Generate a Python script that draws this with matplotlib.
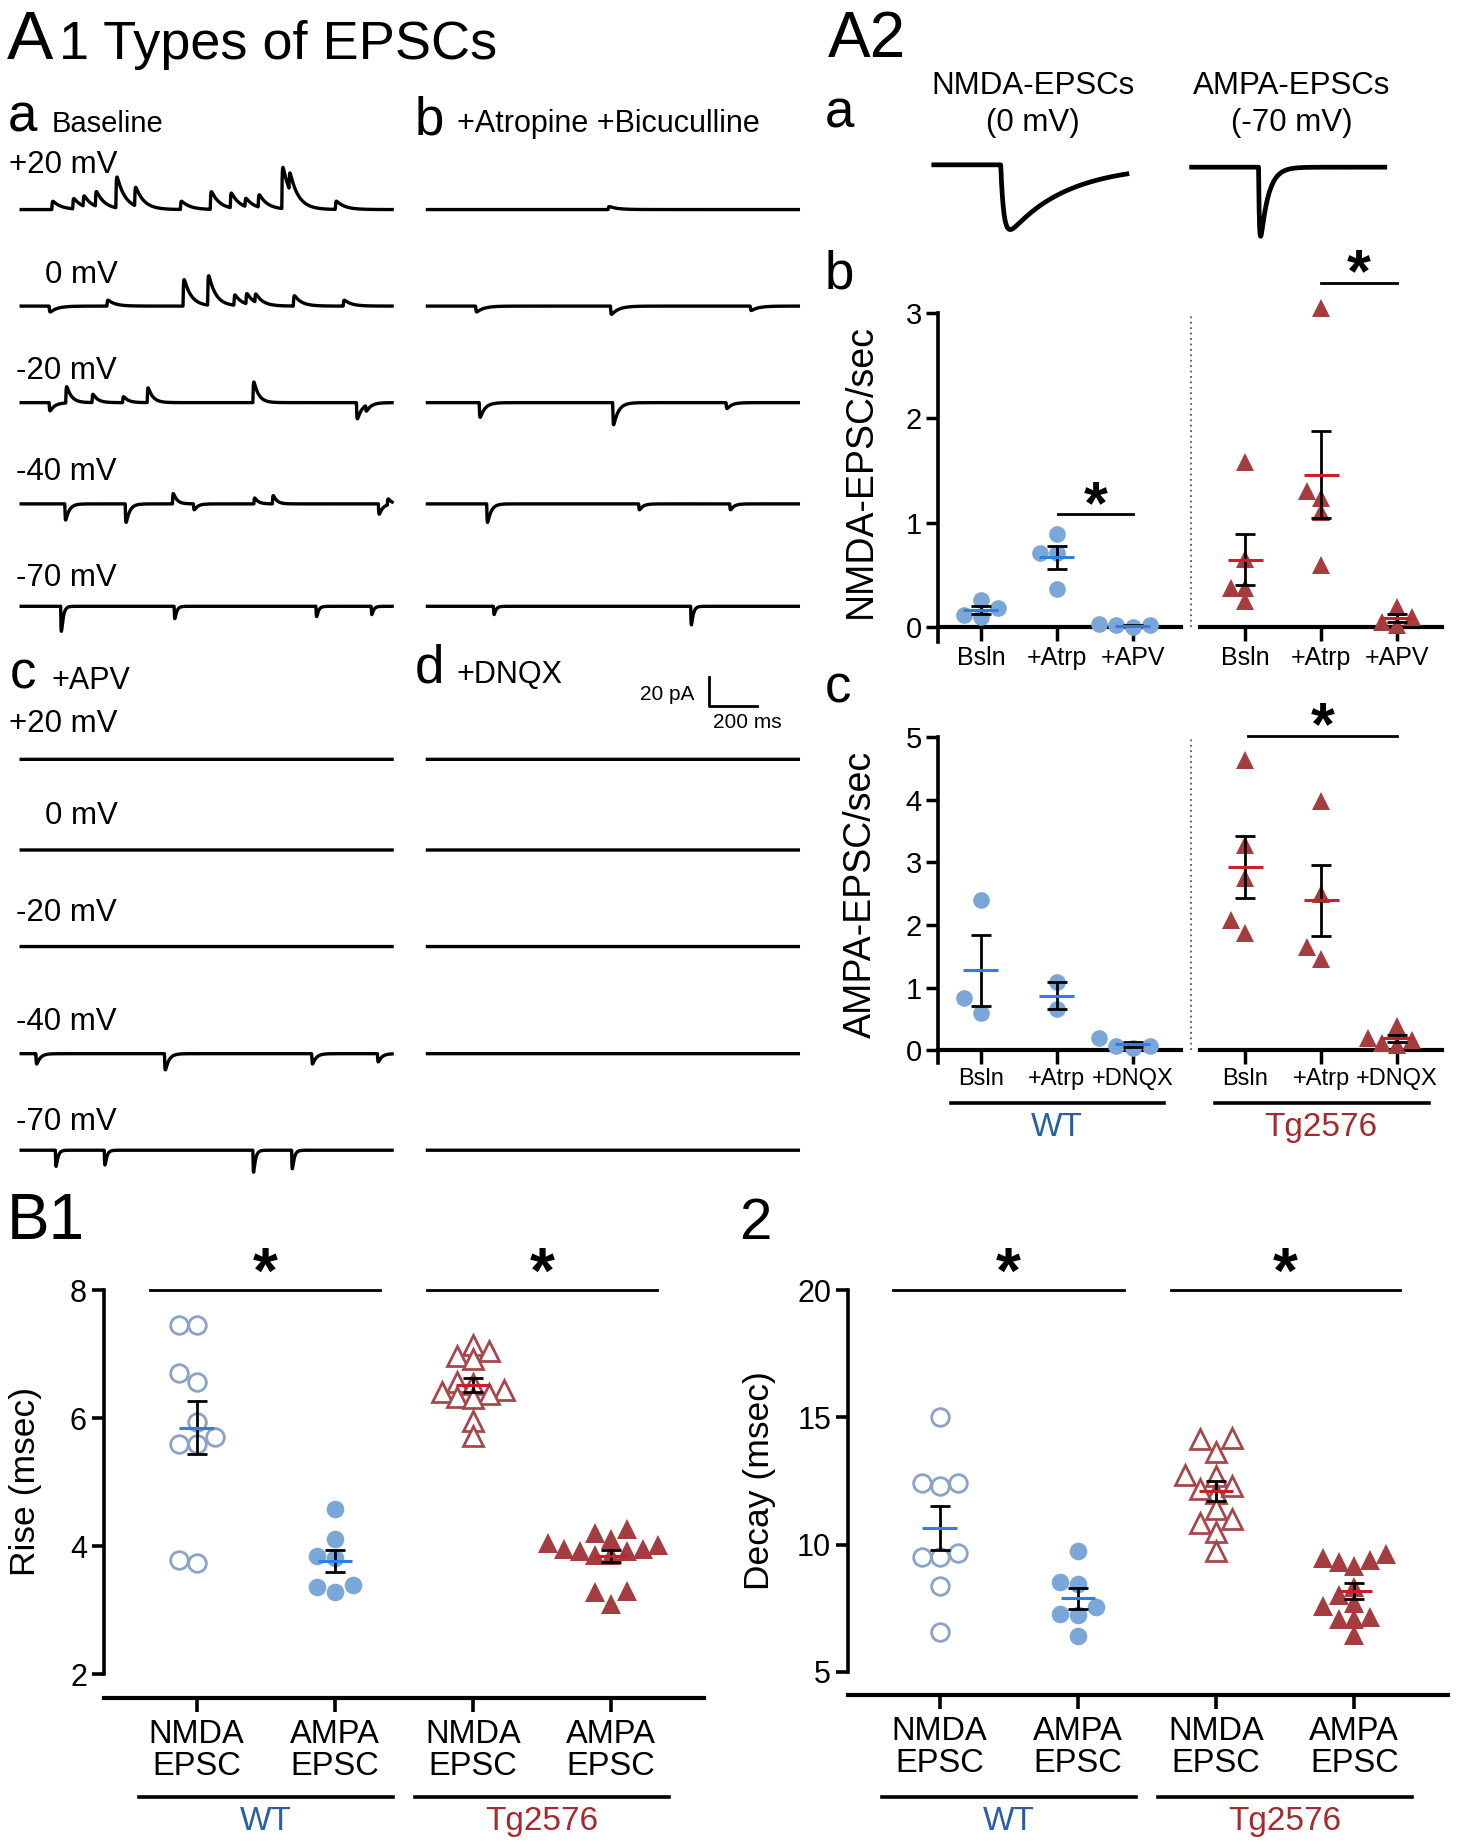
import numpy as np
import matplotlib
matplotlib.use('Agg')
import matplotlib.pyplot as plt
from matplotlib import transforms

plt.rcParams['font.family'] = ['Liberation Sans', 'DejaVu Sans']

# ---------------- data ----------------
# A1 example traces: events as (time s, amplitude pA), + = outward
trace_len = 1.54
hold_labels = ['+20 mV', '0 mV', '-20 mV', '-40 mV', '-70 mV']
decay_ms = [35, 30, 20, 15, 8]
ev_baseline = [
    [(0.127, 5.6), (0.214, 7), (0.257, 7), (0.308, 10), (0.393, 21), (0.471, 12.6),
     (0.661, 5.6), (0.785, 12), (0.868, 10), (0.929, 5.6), (0.984, 8.4), (1.082, 28),
     (1.112, 12), (1.304, 5.6)],
    [(0.116, -4), (0.356, 4), (0.672, 18), (0.774, 20), (0.883, 7), (0.933, 7),
     (0.97, 5.6), (1.13, 7), (1.337, 4)],
    [(0.116, -5.6), (0.185, 11), (0.294, 5.6), (0.421, 4), (0.523, 10), (0.962, 14),
     (1.392, -11), (1.43, -4)],
    [(0.181, -11), (0.432, -12.6), (0.628, 7), (0.715, -4), (0.966, 4), (1.043, 5.6),
     (1.483, -7), (1.52, 4)],
    [(0.164, -17), (0.635, -8.4), (1.224, -7), (1.453, -5.6)],
]
ev_atropine = [
    [(0.75, 2)],
    [(0.2, -4), (0.76, -5.6), (1.34, -3)],
    [(0.215, -10), (0.769, -15), (1.24, -4)],
    [(0.246, -12.6), (0.877, -4), (1.255, -4)],
    [(0.274, -5.6), (1.093, -12.6)],
]
ev_apv = [[], [], [],
          [(0.061, -7), (0.595, -11), (1.206, -7), (1.479, -5.6)],
          [(0.142, -11), (0.345, -10), (0.962, -15), (1.123, -12.6)]]
ev_dnqx = [[], [], [], [], []]

# A2a averaged events: (onset s, peak pA, rise ms, decay ms)
avg_len = 0.15
nmda_avg = (0.052, -44, 2.5, 45)
ampa_avg = (0.052, -47, 0.7, 6)

# A2b/c frequencies (events/s)
conds_b = ['Bsln', '+Atrp', '+APV']
conds_c = ['Bsln', '+Atrp', '+DNQX']
nmda_freq_wt = [[0.10, 0.19, 0.26, 0.12], [0.89, 0.71, 0.71, 0.37], [0.0, 0.02, 0.02, 0.03]]
nmda_freq_tg = [[0.25, 0.38, 0.65, 1.58, 0.38], [3.05, 1.24, 1.30, 1.10, 0.60], [0.20, 0.02, 0.10, 0.05]]
ampa_freq_wt = [[2.4, 0.83, 0.6], [1.08, 0.65], [0.03, 0.2, 0.07, 0.06]]
ampa_freq_tg = [[4.64, 3.28, 2.75, 1.87, 2.07], [3.97, 2.49, 1.45, 1.65], [0.38, 0.08, 0.2, 0.12, 0.16]]

# B kinetics (ms)
b_cats = ['NMDA\nEPSC', 'AMPA\nEPSC', 'NMDA\nEPSC', 'AMPA\nEPSC']
rise_wt_nmda = [7.46, 7.46, 6.70, 6.57, 5.94, 5.70, 5.59, 5.59, 3.74, 3.79]
rise_wt_ampa = [4.58, 4.11, 3.84, 3.82, 3.39, 3.28, 3.36]
rise_tg_nmda = [7.15, 7.05, 6.97, 6.92, 6.57, 6.54, 6.44, 6.41, 6.34, 6.38, 6.31, 5.96, 5.73]
rise_tg_ampa = [4.05, 4.02, 3.95, 3.96, 3.92, 4.27, 4.11, 3.92, 3.86, 3.86, 3.30, 3.28, 3.10, 4.20]
decay_wt_nmda = [15.0, 12.42, 12.3, 12.42, 9.52, 9.68, 9.52, 8.39, 6.55]
decay_wt_ampa = [9.73, 8.44, 8.52, 7.56, 7.24, 7.29, 6.40]
decay_tg_nmda = [14.16, 14.19, 13.65, 12.7, 12.74, 12.03, 12.2, 12.3, 11.4, 11.0, 10.86, 10.5, 9.76]
decay_tg_ampa = [9.48, 9.16, 9.40, 9.65, 9.32, 8.35, 7.7, 7.6, 7.07, 7.07, 7.15, 6.43, 8.0]

# colours
c_wt_fill = '#7ba6d8'
c_wt_open = '#8aa3c6'
c_wt_mean = '#2f7fe0'
c_tg_fill = '#a53c40'
c_tg_open = '#a8474b'
c_tg_mean = '#c8202a'
c_wt_text = '#2a5fa5'
c_tg_text = '#a52a2e'

# ---------------- layout helpers (reference pixel grid) ----------------
W, H = 1245.0, 1568.0
fig = plt.figure(figsize=(14.66, 18.46), dpi=100, facecolor='white')


def rect(x0, y0, x1, y1):
    return [x0 / W, 1 - y1 / H, (x1 - x0) / W, (y1 - y0) / H]


def ftext(x, y, s, size, **kw):
    kw.setdefault('va', 'baseline')
    fig.text(x / W, 1 - y / H, s, fontsize=size, **kw)


def kernel(t, t0, rise, decay):
    dt = np.clip(t - t0, 0, None)
    k = (1 - np.exp(-dt / rise)) * np.exp(-dt / decay)
    tp = rise * np.log((rise + decay) / rise)
    return k / ((1 - np.exp(-tp / rise)) * np.exp(-tp / decay))


def trace_axes(x0, x1, base, events, tau, dur=trace_len, rise=1.5, lw=2.4):
    ax = fig.add_axes(rect(x0, base - 40, x1, base + 40))
    t = np.linspace(0, dur, 3000)
    y = np.zeros_like(t)
    for t0, amp in events:
        y += amp * kernel(t, t0, rise / 1000, tau / 1000)
    ax.plot(t, y, color='black', lw=lw, clip_on=False)
    ax.set_xlim(0, dur)
    ax.set_ylim(-32, 32)
    ax.axis('off')
    return ax


def swarm(ax, vals, ms, step_f=1.02, gap_f=0.93):
    p0 = ax.transData.transform((0, 0))
    p1 = ax.transData.transform((1, 1))
    sx, sy = p1[0] - p0[0], p1[1] - p0[1]
    diam = ms * fig.dpi / 72
    step = diam * step_f / sx
    offs = np.zeros(len(vals))
    placed = []
    for i in np.argsort(vals):
        for k in range(60):
            o = ((k + 1) // 2) * (-1 if k % 2 else 1) * step
            if all(((o - po) * sx) ** 2 + ((vals[i] - pv) * sy) ** 2 >= (gap_f * diam) ** 2
                   for po, pv in placed):
                break
        offs[i] = o
        placed.append((o, vals[i]))
    return offs


def dot_group(ax, x, vals, marker, ms, face, edge, mean_col, half_w, cap, mew=0):
    vals = np.asarray(vals, dtype=float)
    if marker == '^':
        offs = swarm(ax, vals, ms, 0.78, 0.72)
    else:
        offs = swarm(ax, vals, ms)
    ax.plot(x + offs, vals, ls='none', marker=marker, ms=ms, mfc=face, mec=edge,
            mew=mew, clip_on=False, zorder=3)
    m = vals.mean()
    se = vals.std(ddof=1) / np.sqrt(len(vals))
    ax.errorbar(x, m, yerr=se, fmt='none', ecolor='black', elinewidth=2,
                capsize=cap, capthick=2, zorder=4)
    ax.plot([x - half_w, x + half_w], [m, m], color=mean_col, lw=2.2, zorder=5,
            solid_capstyle='butt', clip_on=False)


# ---------------- A1 traces ----------------
ftext(6, 50, 'A', 50)
ftext(50, 50, '1 Types of EPSCs', 39)
ftext(7, 112, 'a', 38)
ftext(44, 112, 'Baseline', 21)
ftext(352, 114, 'b', 38)
ftext(388, 112, '+Atropine +Bicuculline', 22)
ftext(8, 585, 'c', 38)
ftext(44, 585, '+APV', 22)
ftext(352, 580, 'd', 38)
ftext(388, 580, '+DNQX', 22)

top_bases = [178, 260, 342, 428, 515]
bot_bases = [645, 722, 804, 895, 977]
top_label_y = [147, 240, 322, 408, 498]
bot_label_y = [622, 700, 782, 875, 960]
label_x = [8, 38, 14, 14, 14]

for i in range(5):
    trace_axes(18, 333, top_bases[i], ev_baseline[i], decay_ms[i])
    trace_axes(363, 678, top_bases[i], ev_atropine[i], decay_ms[i])
    trace_axes(18, 333, bot_bases[i], ev_apv[i], decay_ms[i])
    ax_d = trace_axes(363, 678, bot_bases[i], ev_dnqx[i], decay_ms[i])
    if i == 0:
        ax_scale = ax_d
    ftext(label_x[i], top_label_y[i], hold_labels[i], 22.5)
    ftext(label_x[i], bot_label_y[i], hold_labels[i], 22.5)

# scale bar 20 pA / 200 ms
ax_scale.plot([1.168, 1.168, 1.368], [56, 36, 36], color='black', lw=2, clip_on=False)
ax_scale.text(1.11, 44, '20 pA', fontsize=15, ha='right', va='center')
ax_scale.text(1.33, 25, '200 ms', fontsize=15, ha='center', va='center')

# ---------------- A2a ----------------
ftext(703, 48, 'A2', 46)
ftext(700, 108, 'a', 38)
ftext(877, 80, 'NMDA-EPSCs', 22.5, ha='center')
ftext(877, 111, '(0 mV)', 22.5, ha='center')
ftext(1097, 80, 'AMPA-EPSCs', 22.5, ha='center')
ftext(1097, 111, '(-70 mV)', 22.5, ha='center')
trace_axes(793, 957, 140, [nmda_avg[:2]], nmda_avg[3], dur=avg_len, rise=nmda_avg[2], lw=3.4)
trace_axes(1012, 1176, 142, [ampa_avg[:2]], ampa_avg[3], dur=avg_len, rise=ampa_avg[2], lw=3.4)


# ---------------- A2b / A2c ----------------
def freq_pair(y_top, y_bot, ymax, ybot, wt, tg, conds, yticks, xfs):
    aw = fig.add_axes(rect(797, y_top, 1003, y_bot))
    at = fig.add_axes(rect(1019, y_top, 1225, y_bot))
    aw.set_xlim(-0.56, 2.64)
    at.set_xlim(-0.6, 2.6)
    for ax in (aw, at):
        ax.set_ylim(ybot, ymax)
        ax.patch.set_visible(False)
        ax.spines[['top', 'right']].set_visible(False)
        ax.spines['bottom'].set_position(('data', 0))
        ax.spines['bottom'].set_linewidth(3)
        ax.set_xticks(range(3))
        ax.set_xticklabels(conds, fontsize=xfs)
        ax.tick_params(axis='x', length=10, width=2.5, pad=3)
    aw.spines['left'].set_linewidth(2.6)
    aw.set_yticks(yticks)
    aw.set_yticklabels([str(v) for v in yticks], fontsize=21)
    aw.tick_params(axis='y', length=9, width=2.5, pad=3)
    at.spines['left'].set_visible(False)
    at.set_yticks([])
    for i, vals in enumerate(wt):
        dot_group(aw, i, vals, 'o', 12, c_wt_fill, c_wt_fill, c_wt_mean, 0.23, 7.5)
    for i, vals in enumerate(tg):
        dot_group(at, i, vals, '^', 13.5, c_tg_fill, c_tg_fill, c_tg_mean, 0.23, 7.5)
    aw.plot([2.77, 2.77], [0, ymax], ls=(0, (1, 2)), color='#555555', lw=1.3, clip_on=False)
    return aw, at


def sig(ax, x0, x1, y, ytop, size=44):
    ax.plot([x0, x1], [y, y], color='black', lw=2, clip_on=False)
    ax.text((x0 + x1) / 2, ytop, '*', fontsize=size, fontweight='bold',
            ha='center', va='top', clip_on=False)


ftext(700, 245, 'b', 38)
bw, bt = freq_pair(266, 545, 3, -0.135, nmda_freq_wt, nmda_freq_tg, conds_b, [0, 1, 2, 3], 18)
sig(bw, 1.02, 2.0, 1.08, 1.42)
sig(bt, 1.0, 2.0, 3.29, 3.63)
ftext(731, 400, 'NMDA-EPSC/sec', 27, rotation=90, ha='center', va='center')

ftext(700, 597, 'c', 38)
cw, ct = freq_pair(626, 903, 5, -0.207, ampa_freq_wt, ampa_freq_tg, conds_c, [0, 1, 2, 3, 4, 5], 17)
sig(ct, 0.03, 2.0, 5.02, 5.58)
ftext(731, 760, 'AMPA-EPSC/sec', 27, rotation=90, ha='center', va='center')

for ax, col, name in ((cw, c_wt_text, 'WT'), (ct, c_tg_text, 'Tg2576')):
    tr = transforms.blended_transform_factory(ax.transData, fig.transFigure)
    ax.plot([-0.4, 2.42], [1 - 937 / H] * 2, color='black', lw=2.6, transform=tr, clip_on=False)
    ax.text(1.0, 1 - 958 / H, name, color=col, fontsize=24, ha='center', va='center',
            transform=tr)


# ---------------- B1 / B2 ----------------
def kin_panel(box, xlim, ylim, yticks, data, ylabel, ylab_x, sig_top, sig_y):
    ax = fig.add_axes(rect(*box))
    ax.set_xlim(*xlim)
    ax.set_ylim(*ylim)
    ax.patch.set_visible(False)
    ax.spines[['top', 'right']].set_visible(False)
    ax.spines['bottom'].set_position(('outward', 17))
    ax.spines['bottom'].set_linewidth(3)
    ax.spines['left'].set_linewidth(2.6)
    ax.set_xticks(range(4))
    ax.set_xticklabels(b_cats, fontsize=23.5, linespacing=1.05)
    ax.tick_params(axis='x', length=10, width=2.6, pad=5)
    ax.set_yticks(yticks)
    ax.set_yticklabels([str(v) for v in yticks], fontsize=22)
    ax.tick_params(axis='y', length=9, width=2.6, pad=3)
    styles = [('o', 12.7, 'white', c_wt_open, c_wt_mean, 2),
              ('o', 12.7, c_wt_fill, c_wt_fill, c_wt_mean, 0),
              ('^', 14.5, 'white', c_tg_open, c_tg_mean, 2),
              ('^', 14.5, c_tg_fill, c_tg_fill, c_tg_mean, 0)]
    for i, (vals, st) in enumerate(zip(data, styles)):
        mk, ms, face, edge, mcol, mew = st
        dot_group(ax, i, vals, mk, ms, face, edge, mcol, 0.125, 7, mew=mew)
    sig(ax, -0.34, 1.33, sig_y, sig_top, size=46)
    sig(ax, 1.67, 3.33, sig_y, sig_top, size=46)
    tr = transforms.blended_transform_factory(ax.transData, fig.transFigure)
    for (x0, x1), col, name in (((-0.42, 1.42), c_wt_text, 'WT'),
                                ((1.58, 3.42), c_tg_text, 'Tg2576')):
        ax.plot([x0, x1], [1 - 1526 / H] * 2, color='black', lw=2.6, transform=tr, clip_on=False)
        ax.text((x0 + x1) / 2, 1 - 1547 / H, name, color=col, fontsize=24,
                ha='center', va='center', transform=tr)
    ftext(ylab_x, 1258, ylabel, 25.5, rotation=90, ha='center', va='center')
    return ax


ftext(6, 1052, 'B1', 46)
ftext(628, 1052, '2', 42)
kin_panel((88, 1096, 598, 1422), (-0.673, 3.673), (2, 8), [2, 4, 6, 8],
          [rise_wt_nmda, rise_wt_ampa, rise_tg_nmda, rise_tg_ampa],
          'Rise (msec)', 22, 8.70, 8)
kin_panel((720, 1096, 1230, 1420), (-0.665, 3.68), (5, 20), [5, 10, 15, 20],
          [decay_wt_nmda, decay_wt_ampa, decay_tg_nmda, decay_tg_ampa],
          'Decay (msec)', 645, 21.76, 20)

fig.savefig('out.png', dpi=100, facecolor='white')
